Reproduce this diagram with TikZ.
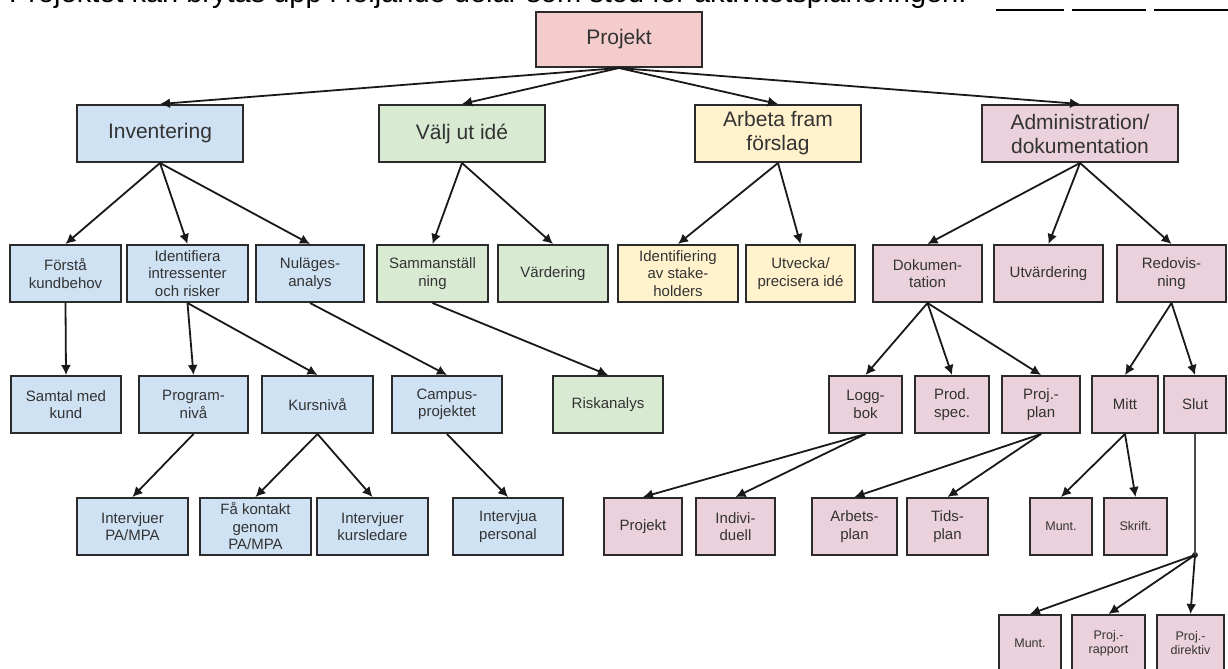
\documentclass[tikz,border=0pt]{standalone}
\usepackage{fontspec}
\setmainfont{Liberation Sans}
\usetikzlibrary{arrows.meta}
\definecolor{pinkbox}{HTML}{F4CCCC}
\definecolor{bluebox}{HTML}{CFE2F3}
\definecolor{greenbox}{HTML}{D9EAD3}
\definecolor{yellowbox}{HTML}{FFF2CC}
\definecolor{purplebox}{HTML}{EAD1DC}
\definecolor{boxline}{HTML}{2B2B2B}

\begin{document}
\begin{tikzpicture}[x=0.5pt, y=-0.5pt,
  box/.style={draw=boxline, line width=1pt, inner sep=0pt, align=center, text=black!80, minimum height=28.5pt},
  w/.style={minimum width=#1*0.5pt},
  big/.style={box, font=\fontsize{10.5}{12}\selectfont},
  mid/.style={box, font=\fontsize{7.5}{8.75}\selectfont},
  small/.style={box, font=\fontsize{6.25}{7}\selectfont},
  link/.style={-{Latex[length=5pt,width=5pt]}, line width=0.9pt, draw=black!90}]
 \useasboundingbox (0,0) rectangle (1228,669);

 \node[anchor=base west, font=\fontsize{14.5}{16}\selectfont] (intro) at (2,3) {Projektet kan brytas upp i följande delar som stöd för aktivitetsplaneringen:};
 \draw[line width=0.6pt] (996,10) -- (1064,10) (1072,10) -- (1146,10) (1154,10) -- (1228,10);

 \node[big, w=166, minimum height=27.5pt, fill=pinkbox] (projekt) at (619,39.5) {Projekt};

 \node[big, w=166, fill=bluebox] (inv) at (160,133.5) {Inventering};
 \node[big, w=166, fill=greenbox] (valj) at (462,133.5) {Välj ut idé};
 \node[big, w=166, fill=yellowbox] (arbeta) at (778,133.5) {Arbeta fram\\förslag};
 \node[big, w=196, fill=purplebox] (admin) at (1080,133.5) {Administration/\\dokumentation};

 \node[mid, w=111, fill=bluebox] (forsta) at (65.5,273.5) {Förstå\\kundbehov};
 \node[mid, w=121, fill=bluebox] (ident) at (187.5,273.5) {Identifiera\\intressenter\\och risker};
 \node[mid, w=108, fill=bluebox] (nulage) at (310,273.5) {Nuläges-\\analys};
 \node[mid, w=111, fill=greenbox] (samman) at (432.5,273.5) {Sammanställ\\ning};
 \node[mid, w=110, fill=greenbox] (varde) at (553,273.5) {Värdering};
 \node[mid, w=120, fill=yellowbox] (stake) at (678,273.5) {Identifiering\\av stake-\\holders};
 \node[mid, w=109, fill=yellowbox] (utveck) at (800.5,273.5) {Utvecka/\\precisera idé};
 \node[mid, w=109, fill=purplebox] (dokum) at (927.5,273.5) {Dokumen-\\tation};
 \node[mid, w=109, fill=purplebox] (utvard) at (1048.5,273.5) {Utvärdering};
 \node[mid, w=109, fill=purplebox] (redov) at (1171.5,273.5) {Redovis-\\ning};

 \node[mid, w=110, fill=bluebox] (samtal) at (66,404.5) {Samtal med\\kund};
 \node[mid, w=109, fill=bluebox] (program) at (193.5,404.5) {Program-\\nivå};
 \node[mid, w=111, fill=bluebox] (kurs) at (317.5,404.5) {Kursnivå};
 \node[mid, w=110, fill=bluebox] (campus) at (447,404.5) {Campus-\\projektet};
 \node[mid, w=110, fill=greenbox] (risk) at (608,404.5) {Riskanalys};
 \node[mid, w=73, fill=purplebox] (logg) at (865.5,404.5) {Logg-\\bok};
 \node[mid, w=74, fill=purplebox] (prod) at (952,404.5) {Prod.\\spec.};
 \node[mid, w=78, fill=purplebox] (projplan) at (1041,404.5) {Proj.-\\plan};
 \node[mid, w=66, fill=purplebox] (mitt) at (1125,404.5) {Mitt};
 \node[mid, w=62, fill=purplebox] (slut) at (1195,404.5) {Slut};

 \node[mid, w=111, fill=bluebox] (intpa) at (132.5,526.5) {Intervjuer\\PA/MPA};
 \node[mid, w=111, fill=bluebox] (kontakt) at (255.5,526.5) {Få kontakt\\genom\\PA/MPA};
 \node[mid, w=111, fill=bluebox] (intkurs) at (372.5,526.5) {Intervjuer\\kursledare};
 \node[mid, w=110, fill=bluebox] (intpers) at (508,526.5) {Intervjua\\personal};
 \node[mid, w=78, fill=purplebox] (projlogg) at (643,526.5) {Projekt};
 \node[mid, w=79, fill=purplebox] (indiv) at (735.5,526.5) {Indivi-\\duell};
 \node[mid, w=85, fill=purplebox] (arbplan) at (854.5,526.5) {Arbets-\\plan};
 \node[mid, w=81, fill=purplebox] (tidplan) at (947.5,526.5) {Tids-\\plan};
 \node[small, w=62, fill=purplebox] (muntmitt) at (1061,526.5) {Munt.};
 \node[small, w=63, fill=purplebox] (skrift) at (1135.5,526.5) {Skrift.};

 \node[small, w=62, fill=purplebox] (muntslut) at (1030,643.5) {Munt.};
 \node[small, w=73, fill=purplebox] (rapport) at (1108.5,643.5) {Proj.-\\rapport};
 \node[small, w=67, fill=purplebox] (direktiv) at (1190.5,643.5) {Proj.-\\direktiv};

 \node[circle, fill=boxline, inner sep=0pt, minimum size=3pt] (knot) at (1195,555) {};

 \draw[link] (projekt.south) -- (inv.north);
 \draw[link] (projekt.south) -- (valj.north);
 \draw[link] (projekt.south) -- (arbeta.north);
 \draw[link] (projekt.south) -- (admin.north);
 \draw[link] (inv.south) -- (forsta.north);
 \draw[link] (inv.south) -- (ident.north);
 \draw[link] (inv.south) -- (nulage.north);
 \draw[link] (valj.south) -- (samman.north);
 \draw[link] (valj.south) -- (varde.north);
 \draw[link] (arbeta.south) -- (stake.north);
 \draw[link] (arbeta.south) -- (utveck.north);
 \draw[link] (admin.south) -- (dokum.north);
 \draw[link] (admin.south) -- (utvard.north);
 \draw[link] (admin.south) -- (redov.north);
 \draw[link] (forsta.south) -- (samtal.north);
 \draw[link] (ident.south) -- (program.north);
 \draw[link] (ident.south) -- (kurs.north);
 \draw[link] (nulage.south) -- (campus.north);
 \draw[link] (samman.south) -- (risk.north);
 \draw[link] (program.south) -- (intpa.north);
 \draw[link] (kurs.south) -- (kontakt.north);
 \draw[link] (kurs.south) -- (intkurs.north);
 \draw[link] (campus.south) -- (intpers.north);
 \draw[link] (dokum.south) -- (logg.north);
 \draw[link] (dokum.south) -- (prod.north);
 \draw[link] (dokum.south) -- (projplan.north);
 \draw[link] (redov.south) -- (mitt.north);
 \draw[link] (redov.south) -- (slut.north);
 \draw[link] (logg.south) -- (projlogg.north);
 \draw[link] (logg.south) -- (indiv.north);
 \draw[link] (projplan.south) -- (arbplan.north);
 \draw[link] (projplan.south) -- (tidplan.north);
 \draw[link] (mitt.south) -- (muntmitt.north);
 \draw[link] (mitt.south) -- (skrift.north);
 \draw[line width=0.9pt, draw=black!70] (slut.south) -- (knot.center);
 \draw[link] (knot.center) -- (muntslut.north);
 \draw[link] (knot.center) -- (rapport.north);
 \draw[link] (knot.center) -- (direktiv.north);
\end{tikzpicture}
\end{document}
